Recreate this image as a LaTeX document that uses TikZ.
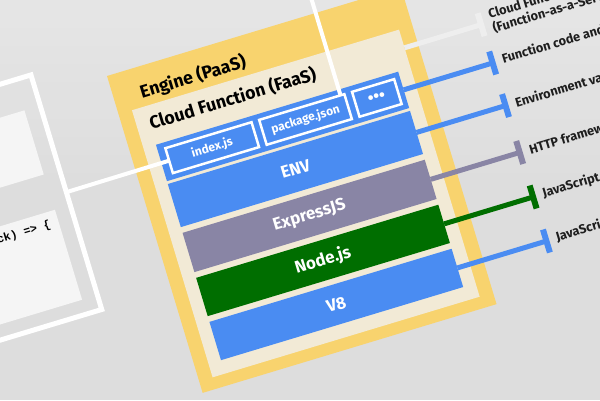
\documentclass[tikz,border=0pt]{standalone}
\usepackage{fontspec}
\setmainfont{Fira Sans}
\newfontfamily\codefont{Liberation Mono}
\definecolor{bgC}{HTML}{DDDDDD}
\definecolor{bgLight}{HTML}{E8E8E8}
\definecolor{yellowC}{HTML}{F8D36E}
\definecolor{creamC}{HTML}{F2EAD6}
\definecolor{blueC}{HTML}{4A8CF2}
\definecolor{purpC}{HTML}{8985A5}
\definecolor{greenC}{HTML}{006E00}
\definecolor{lightC}{HTML}{EEEEEE}
\definecolor{panelC}{HTML}{F5F5F5}
\definecolor{labC}{HTML}{1E1E1E}
\tikzset{
  box/.style={draw=none, inner sep=0pt, outer sep=0pt, anchor=north west},
  barbox/.style={box, minimum width=253pt, text=white, font=\bfseries\fontsize{17}{18}\selectfont},
  filebox/.style={box, draw=white, line width=2.5pt, minimum width=#1, minimum height=26pt, text=white, font=\bfseries\fontsize{12}{13}\selectfont},
  titletext/.style={anchor=west, inner sep=0pt, text=black, font=\bfseries\fontsize{17.8}{20}\selectfont},
  leader/.style={line width=5pt},
  tickline/.style={line width=6pt},
  lab/.style={anchor=west, inner sep=0pt, text=labC, font=\bfseries\fontsize{12.8}{15}\selectfont, align=left},
  whiteline/.style={draw=white, line width=4pt}
}
\begin{document}
\begin{tikzpicture}[x=1pt,y=-1pt]
\useasboundingbox (0,0) rectangle (600,400);
\clip (0,0) rectangle (600,400);
\fill[bgC] (0,0) rectangle (600,400);
\shade[top color=bgLight, bottom color=bgC, opacity=0.8] (0,0) rectangle (600,200);
\begin{scope}[shift={(107,76)}, rotate=16.8, transform shape]
  % code panel on the left
  \node[box, anchor=north east, draw=white, line width=5pt, minimum width=260pt, minimum height=245pt] (code) at (-72.5,-23) {};
  \node[box, anchor=north east, fill=panelC, minimum width=240pt, minimum height=67pt] (panelA) at (-89,9) {};
  \node[box, anchor=north east, fill=panelC, minimum width=240pt, minimum height=94pt] (panelB) at (-88.5,113) {};
  \node[anchor=east, inner sep=0pt, font=\codefont\bfseries\fontsize{11.5}{13}\selectfont] (codeline) at (-97,126) {(req, res, callback) => \{};
  % engine and cloud function boxes
  \node[box, fill=yellowC, minimum width=307pt, minimum height=331pt] (engine) at (0,0) {};
  \node[box, fill=creamC, minimum width=279pt, minimum height=279pt] (cream) at (14,40) {};
  \node[titletext] (engT) at (27,26) {Engine (PaaS)};
  \node[titletext] (cfT) at (27,58) {Cloud Function (FaaS)};
  % layers
  \node[barbox, fill=blueC, minimum height=38pt] (files) at (27,80) {};
  \node[barbox, fill=blueC, minimum height=45pt] (env) at (27,121) {ENV};
  \node[barbox, fill=purpC, minimum height=41pt] (expr) at (27,172) {ExpressJS};
  \node[barbox, fill=greenC, minimum height=40pt] (nodejs) at (27,219) {Node.js};
  \node[barbox, fill=blueC, minimum height=40pt] (veight) at (27,265) {V8};
  \node[filebox=90pt] (index) at (35,86) {index.js};
  \node[filebox=89pt] (pkg) at (133,86) {package.json};
  \node[filebox=44pt, font=\bfseries\fontsize{17}{17}\selectfont] (dots) at (230,86) {•••};
  % white connectors
  \draw[whiteline] (code.east) -- (index.west);
  \coordinate (topsrc) at (218,-90);
  \coordinate (pkgtop) at (218,86);
  \draw[whiteline] (topsrc) -- (pkgtop);
  % leader lines
  \coordinate (cfR) at (293,59);
  \coordinate (t-cf) at (373,59);
  \draw[leader, lightC] (cfR) -- (t-cf);
  \draw[tickline, lightC] (t-cf) ++(0,-12) -- ++(0,24);
  \foreach \n/\b/\c in {files/99/blueC, env/143.5/blueC, expr/192.5/purpC, nodejs/239/greenC, veight/285/blueC} {
    \coordinate (t-\n) at (373,\b);
    \draw[leader, \c] (\n.east) -- (t-\n);
    \draw[tickline, \c] (t-\n) ++(0,-12) -- ++(0,24);
  }
  % labels
  \node[lab] (l-cf) at (383,59) {Cloud Function\\(Function-as-a-Service)};
  \node[lab] (l-files) at (383,99) {Function code and dependencies};
  \node[lab] (l-env) at (383,143.5) {Environment variables};
  \node[lab] (l-expr) at (383,192.5) {HTTP framework};
  \node[lab] (l-node) at (383,239) {JavaScript runtime};
  \node[lab] (l-v8) at (383,285) {JavaScript engine};
\end{scope}
\end{tikzpicture}
\end{document}
